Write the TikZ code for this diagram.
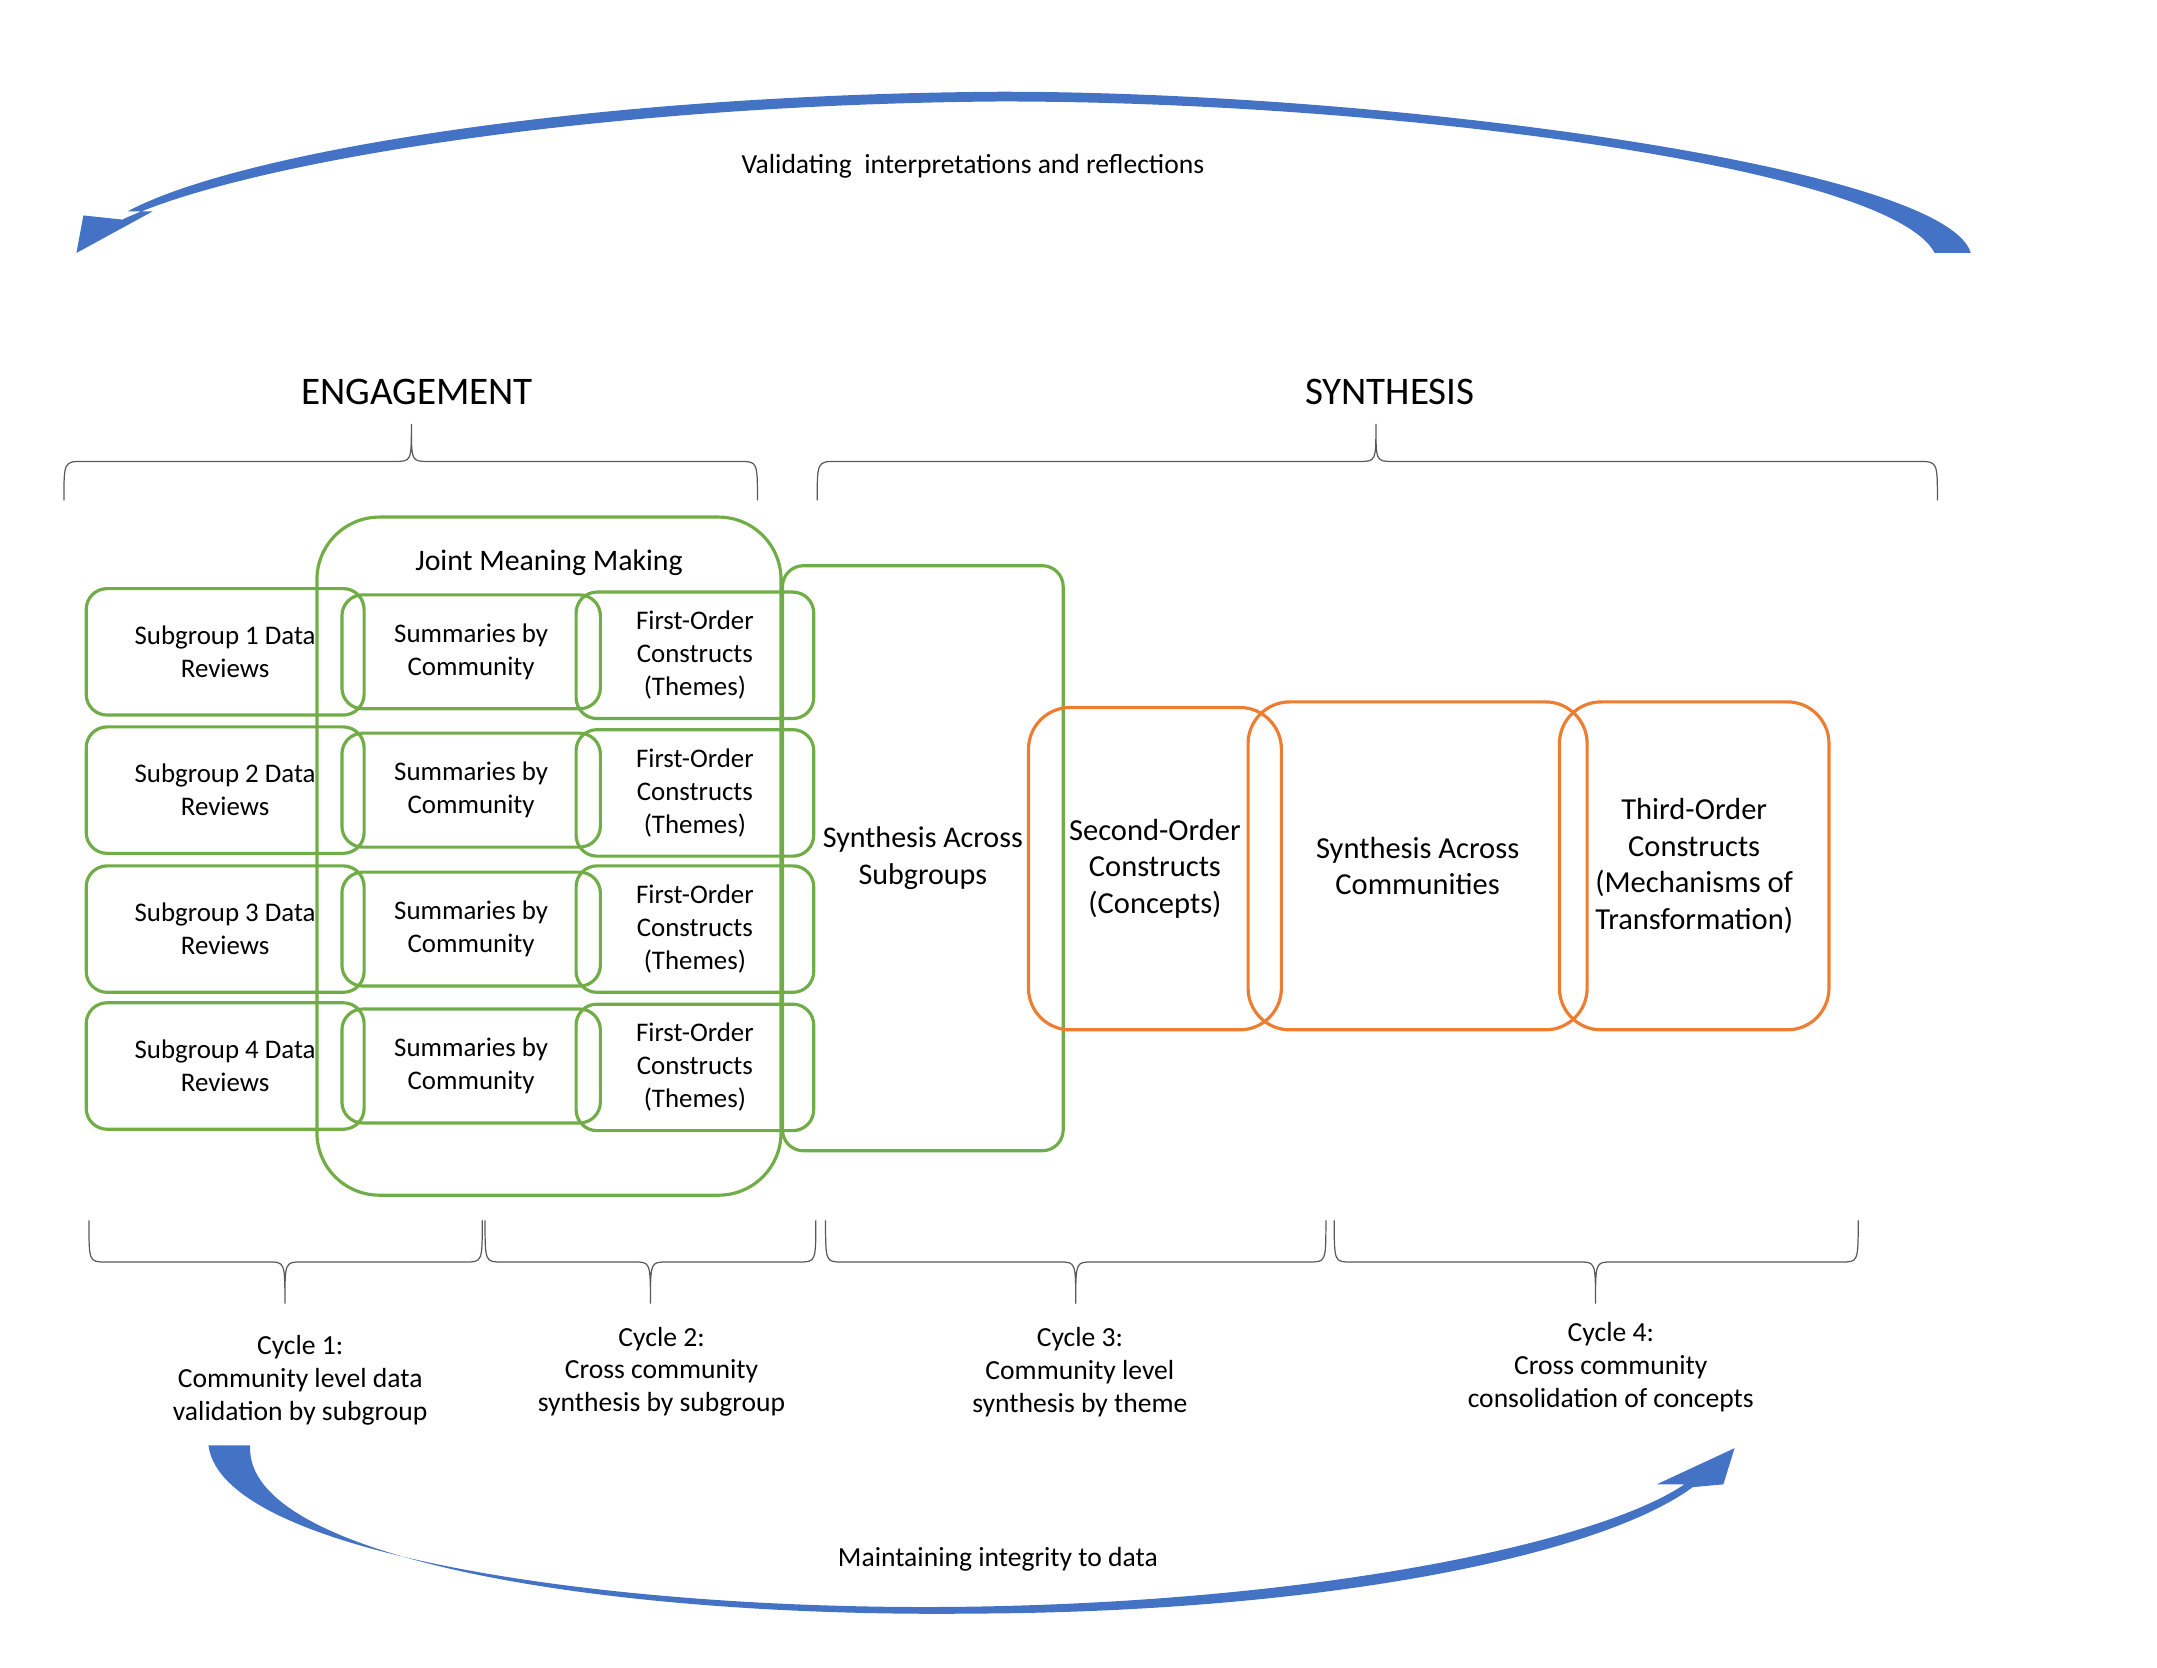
\documentclass[tikz,border=0pt]{standalone}
\usepackage{fontspec}
\setmainfont{Carlito}
\usepackage{tikz}
\usetikzlibrary{positioning,calc}
\definecolor{boxgreen}{RGB}{112,173,71}
\definecolor{boxorange}{RGB}{237,125,49}
\definecolor{arrowblue}{RGB}{68,114,196}
\tikzset{
    x=0.02cm,y=-0.02cm,
    gbox/.style={draw=boxgreen,line width=1.3pt,rounded corners=0.3cm,align=center,font=\fontsize{11}{13.5}\selectfont},
    obox/.style={draw=boxorange,line width=1.3pt,rounded corners=0.6cm,align=center,font=\fontsize{12.5}{15}\selectfont},
    brace/.style={draw=gray!70!black,line width=0.5pt},
    lbl/.style={align=center,font=\fontsize{11.3}{13.5}\selectfont},
    head/.style={font=\fontsize{16}{19}\selectfont}
}
\begin{document}
\begin{tikzpicture}
\useasboundingbox (0,0) rectangle (1552,1200);
% top and bottom arrows
\fill[arrowblue] (1418,182) .. controls (1400,120) and (1000,66) .. (720,66)
    .. controls (420,68) and (170,110) .. (92,152) -- (110,152) -- (55,182) -- (60,155) -- (88,158)
    .. controls (180,115) and (440,75) .. (720,73)
    .. controls (1000,73) and (1360,120) .. (1392,182) -- cycle;
\fill[arrowblue] (150,1040) .. controls (160,1120) and (450,1160) .. (700,1156)
    .. controls (950,1152) and (1150,1110) .. (1212,1068) -- (1192,1068) -- (1248,1042) -- (1240,1068) -- (1218,1070)
    .. controls (1150,1120) and (950,1160) .. (700,1161)
    .. controls (430,1164) and (175,1120) .. (180,1040) -- cycle;
\node[lbl] (validate) at (700,120) {Validating\ \ interpretations and reflections};
\node[lbl] (integrity) at (718,1122) {Maintaining integrity to data};
% headings and braces
\node[head] (engage) at (300,282) {ENGAGEMENT};
\node[head] (synth) at (1000,282) {SYNTHESIS};
\draw[brace] (46,360) .. controls (46,332) .. (60,332) -- (284,332) .. controls (296,332) .. (296,305)
    .. controls (296,332) .. (308,332) -- (532,332) .. controls (545,332) .. (545,360);
\draw[brace] (588,360) .. controls (588,332) .. (602,332) -- (978,332) .. controls (990,332) .. (990,305)
    .. controls (990,332) .. (1002,332) -- (1380,332) .. controls (1394,332) .. (1394,360);
\foreach \a/\m/\b in {64/205/347, 349/468/587, 594/774/954, 960/1148/1337}{
    \draw[brace] (\a,878) .. controls (\a,908) .. (\a+12,908) -- (\m-12,908) .. controls (\m,908) .. (\m,938)
        .. controls (\m,908) .. (\m+12,908) -- (\b-12,908) .. controls (\b,908) .. (\b,878);
}
% engagement boxes
\node[gbox,rounded corners=0.9cm,minimum width=6.68cm,minimum height=9.76cm] (joint) at (395,616) {};
\node[font=\fontsize{12.2}{14}\selectfont] (jointlbl) at (395,405) {Joint Meaning Making};
\foreach \i/\ys/\yf in {1/469/471.5, 2/568.5/570.5, 3/668.5/668.5, 4/767/768}{
    \node[gbox,minimum width=4cm,minimum height=1.82cm] (sub\i) at (162,\ys) {Subgroup \i\ Data\\Reviews};
    \node[gbox,minimum width=3.72cm,minimum height=1.64cm] (summ\i) at (339,\ys) {Summaries by\\Community};
    \node[gbox,minimum width=3.42cm,minimum height=1.82cm] (first\i) at (500,\yf) {First-Order\\Constructs\\(Themes)};
}
\node[gbox,font=\fontsize{12.3}{15}\selectfont,minimum width=4.04cm,minimum height=8.42cm] (synsub) at (664,617.5) {Synthesis Across\\Subgroups};
% synthesis boxes
\node[obox,minimum width=3.64cm,minimum height=4.64cm] (second) at (831,625) {Second-Order\\Constructs\\(Concepts)};
\node[obox,minimum width=4.88cm,minimum height=4.72cm] (syncomm) at (1020,623) {Synthesis Across\\Communities};
\node[obox,minimum width=3.88cm,minimum height=4.72cm] (third) at (1219,623) {Third-Order\\Constructs\\(Mechanisms of\\Transformation)};
% cycles
\node[lbl] (cyc1) at (216,993) {Cycle 1:\\Community level data\\validation by subgroup};
\node[lbl] (cyc2) at (476,987) {Cycle 2:\\Cross community\\synthesis by subgroup};
\node[lbl] (cyc3) at (777,987) {Cycle 3:\\Community level\\synthesis by theme};
\node[lbl] (cyc4) at (1159,984) {Cycle 4:\\Cross community\\consolidation of concepts};
\end{tikzpicture}
\end{document}
